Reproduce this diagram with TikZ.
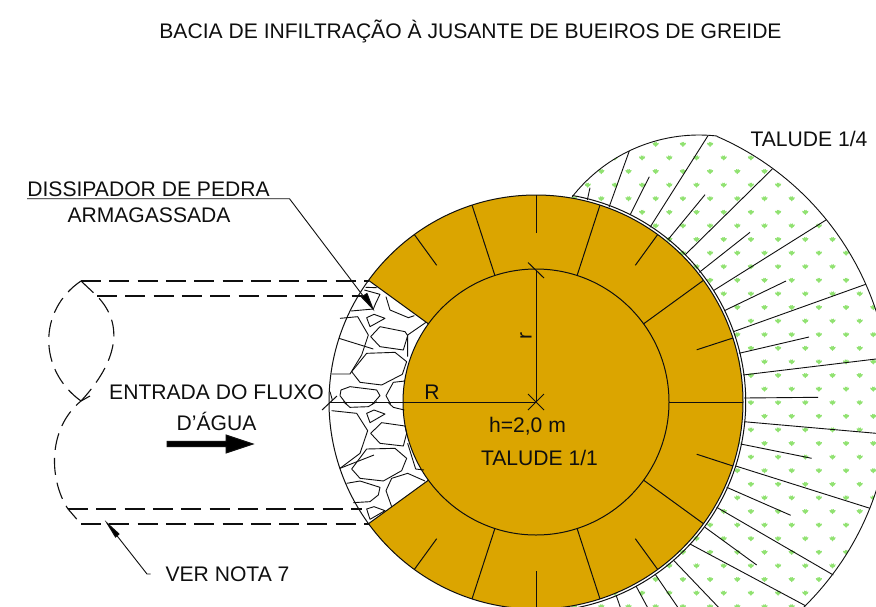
\documentclass[tikz,border=0pt]{standalone}
\usepackage{fontspec}
\setmainfont{Liberation Sans}
\definecolor{gold}{RGB}{219,165,0}
\definecolor{grass}{RGB}{144,226,112}
\definecolor{ink}{RGB}{15,15,15}
\tikzset{
  ink/.style={draw=ink,line width=1pt},
  thinline/.style={draw=ink,line width=0.9pt,line join=round},
  dashline/.style={draw=ink,line width=1.1pt,dash pattern=on 20pt off 8.3pt},
  curvedash/.style={draw=ink,line width=1.1pt,dash pattern=on 17pt off 8pt},
  label/.style={font=\fontsize{21.1pt}{24pt}\selectfont,text=ink,inner sep=0pt,anchor=center},
  ring/.style={shift={(536,402)},y=1pt},
  stonesA/.style={shift={(325,275)},x=0.3333pt,y=-0.3333pt},
  stonesB/.style={shift={(325,400)},x=0.3333pt,y=-0.3333pt},
  tuft/.style={fill=grass,draw=grass,line width=0.5pt,line join=round}
}
\def\outerpath{plot[domain=142:83.6,samples=40,smooth] ({699+161*cos(\x)},{296-161*sin(\x)})
  -- plot[domain=66.5:-65,samples=70,smooth] ({602+288.5*cos(\x)},{401-288.5*sin(\x)})}
\begin{document}
\begin{tikzpicture}[x=1pt,y=-1pt]
\useasboundingbox (0,0) rectangle (876,606);
\clip (0,0) rectangle (876,606);
\fill[white] (0,0) rectangle (876,606);

% slope area: tufts
\begin{scope}
  \clip \outerpath -- (500,680) -- (500,197) -- cycle;
  \foreach \k in {0,...,35}{
    \pgfmathsetmacro{\yy}{144.3+13.6*\k}
    \pgfmathsetmacro{\xs}{isodd(\k)?560.5:574.1}
    \foreach \i in {0,...,12}{
      \pgfmathsetmacro{\xx}{\xs+27.2*\i}
      \fill[tuft,shift={(\xx,\yy)}] (-2.8,-1.2) -- (-1,-0.6) -- (-1,-2.2) -- (0,-1.2) -- (1,-2.2) -- (1,-0.6) -- (2.8,-1.2) -- (2,0.6) -- (0.9,1) -- (0,2.3) -- (-0.9,1) -- (-2,0.6) -- cycle;
    }
  }
\end{scope}
\draw[thinline] \outerpath;

% slope rays
\foreach \a/\b/\c/\d in {
  587.3/200/590/187.7, 609/207.3/629.3/151, 630/215/649.3/176.7, 650/227.3/708/135.7,
  668.3/239.3/705/194.7, 685/255/772.3/169, 699.3/272.3/750/232.3, 713.3/290.7/826/220,
  724.3/310.7/786/281, 733.3/331.7/865.7/284.3, 739/353.3/809/337, 743/375/876/359,
  744/398/818/397.3, 744/421.7/876/433.3, 740.7/444/811.7/458.3, 735.7/466/870/508.3,
  726.7/487.3/790.7/515.3, 716.7/507.3/833.3/575, 705/527.3/756.7/565,
  690/544/806/606, 673.3/560/723/612, 655/574/681/612, 636/586/650/612, 616/595/622/612}{
  \draw[thinline] (\a,\b) -- (\c,\d);
}

\begin{scope}[ring]
  % gold body
  \fill[gold] (0,0) -- (144:207) arc[start angle=144,end angle=-144,radius=207pt] -- cycle;
  \fill[gold] (0,0) circle[radius=133pt];
  \draw[ink] (0,0) circle[radius=133pt];
  \draw[ink] (0,0) circle[radius=207pt];
  \draw[ink] (80:209.7) arc[start angle=80,end angle=-82,radius=209.7pt];
  \foreach \t in {0,36,72,108,144,-36,-72,-108,-144}{
    \draw[ink] (\t:133) -- (\t:207);
  }
  \foreach \t in {18,54,90,126,-18,-54,-90,-126}{
    \draw[ink] (\t:169) -- (\t:207);
  }
\end{scope}

% stones, upper half
\begin{scope}[stonesA]
  \draw[thinline] (118,45) -- (165,58) -- (152,85) -- (145,102) -- (78,108);
  \draw[thinline] (122,37) -- (155,38);
  \draw[thinline] (183,65) -- (195,105) -- (250,128) -- (268,122);
  \draw[thinline] (125,128) -- (147,118) -- (180,130) -- (135,155) -- cycle;
  \draw[thinline] (137,185) -- (165,155) -- (240,170) -- (248,182) -- (235,225) -- (165,215) -- cycle;
  \draw[thinline] (303,142) -- (248,180) -- (248,245);
  \draw[thinline] (80,290) -- (125,235) -- (210,232) -- (245,260) -- (232,298) -- (170,330) -- (105,322) -- cycle;
  \draw[thinline] (20,297) -- (75,297) -- (110,240) -- (130,180) -- (98,125) -- (45,130);
  \draw[thinline] (42,190) -- (145,222);
  \draw[thinline] (240,318) -- (205,322) -- (183,362) -- (197,388);
  \draw[thinline] (45,362) -- (48,345) -- (75,335) -- (155,345) -- (165,362) -- (142,388);
  \draw[thinline] (45,362) -- (65,388);
  \draw[thinline] (15,350) -- (22,375);
\end{scope}
% stones, lower half
\begin{scope}[stonesB]
  \draw[thinline] (55,5) -- (75,22) -- (130,20) -- (155,5);
  \draw[thinline] (190,8) -- (205,22) -- (238,30);
  \draw[thinline] (20,32) -- (95,40) -- (128,92) -- (105,160) -- (45,205);
  \draw[thinline] (45,205) -- (147,165);
  \draw[thinline] (125,40) -- (147,30) -- (180,42) -- (135,68) -- cycle;
  \draw[thinline] (137,100) -- (170,68) -- (240,78) -- (245,100) -- (235,138) -- (165,130) -- cycle;
  \draw[thinline] (80,207) -- (125,147) -- (210,145) -- (245,175) -- (230,212) -- (175,243) -- (105,235) -- cycle;
  \draw[thinline] (65,250) -- (105,243) -- (165,262) -- (160,285) -- (135,305) -- (85,308);
  \draw[thinline] (200,320) -- (183,272) -- (200,235) -- (248,220) -- (300,243);
  \draw[thinline] (125,327) -- (147,320) -- (180,332) -- (135,358) -- cycle;
  \draw[thinline] (248,130) -- (272,207) -- (297,210);
\end{scope}

% pipe, dashed
\coordinate (pa) at (81,281);
\coordinate (pb) at (97,296);
\coordinate (pc) at (81,401);
\coordinate (pd) at (68,509);
\coordinate (pe) at (81,524);
\draw[dashline] (pa) -- (369,281);
\draw[dashline] (pb) -- (362,296);
\draw[dashline] (pd) -- (362,509);
\draw[dashline] (pe) -- (369,524);
\draw[curvedash] (pa) .. controls (38,310) and (38,370) .. (pc);
\draw[curvedash] (pa) -- (pb) .. controls (125,325) and (117,362) .. (pc);
\draw[curvedash] (90,396) -- (pc) .. controls (46,430) and (50,482) .. (pd) -- (pe);

% dimension lines
\coordinate (cen) at (536,402);
\coordinate (top) at (536,270);
\coordinate (lft) at (329,402);
\draw[ink] (lft) -- (cen) -- (top);
\draw[ink] (528,394) -- (544,410);
\draw[ink] (528,410) -- (544,394);
\draw[ink] (528,262.5) -- (544,278);
\draw[ink] (322,410) -- (337,396);

% flow arrow
\fill[ink] (167,441.4) -- (226,441.4) -- (226,435) -- (253,444) -- (226,453) -- (226,446.6) -- (167,446.6) -- cycle;

% labels
\node[label] (title) at (470.5,31) {BACIA DE INFILTRAÇÃO À JUSANTE DE BUEIROS DE GREIDE};
\node[label] (t14) at (809,139) {TALUDE 1/4};
\node[label] (dis1) at (148.5,189) {DISSIPADOR DE PEDRA};
\node[label] (dis2) at (149,215) {ARMAGASSADA};
\node[label] (ent1) at (216.5,392) {ENTRADA DO FLUXO};
\node[label] (ent2) at (216.5,421) {D'ÁGUA};
\node[label] (Rr) at (432,392) {R};
\node[label,rotate=90] (rr) at (526,336) {r};
\node[label] (hh) at (527.5,426) {h=2,0 m};
\node[label] (t11) at (539.5,458) {TALUDE 1/1};
\node[label] (nota) at (227.5,574) {VER NOTA 7};

% leaders
\coordinate (la) at (27,198.7);
\coordinate (lb) at (289.5,198.7);
\coordinate (lc) at (373,309);
\coordinate (na) at (150.5,574);
\coordinate (nb) at (147,574);
\coordinate (nc) at (107,523);
\draw[thinline] (la) -- (lb) -- (lc);
\fill[ink] (lc) -- (361.5,297) -- (367,293.5) -- cycle;
\draw[thinline] (na) -- (nb) -- (nc);
\fill[ink] (nc) -- (115.5,537) -- (119,534) -- cycle;
\end{tikzpicture}
\end{document}
